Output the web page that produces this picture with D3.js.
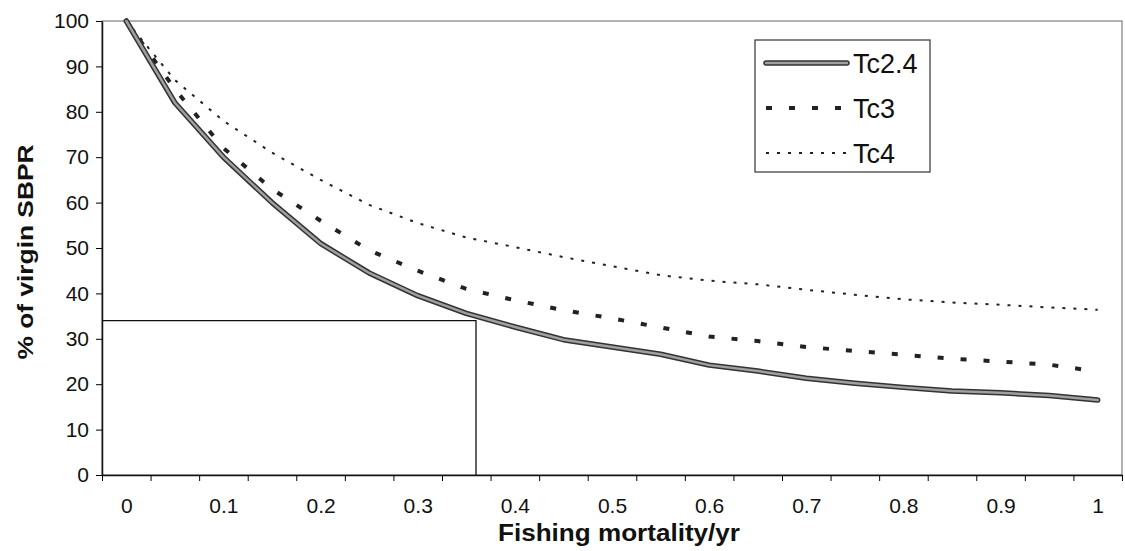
<!DOCTYPE html>
<html>
<head>
<meta charset="utf-8">
<script src="https://cdn.jsdelivr.net/npm/d3@7"></script>
<style>
  body { margin: 0; background: #fff; }
  text { font-family: "Liberation Sans", Arial, sans-serif; fill: #111; }
</style>
</head>
<body>
<div id="chart"></div>
<script>
// categories (Excel style category axis)
var fishingF = [0, 0.05, 0.1, 0.15, 0.2, 0.25, 0.3, 0.35, 0.4, 0.45, 0.5,
                0.55, 0.6, 0.65, 0.7, 0.75, 0.8, 0.85, 0.9, 0.95, 1];
var xTickValues = [0, 0.1, 0.2, 0.3, 0.4, 0.5, 0.6, 0.7, 0.8, 0.9, 1];
var xTickLabels = ["0", "0.1", "0.2", "0.3", "0.4", "0.5", "0.6", "0.7", "0.8", "0.9", "1"];
var yTickValues = [0, 10, 20, 30, 40, 50, 60, 70, 80, 90, 100];

// % of virgin SBPR
var tc24 = [100, 82, 70, 60, 51, 44.5, 39.5, 35.6, 32.6, 29.8, 28.2,
            26.6, 24.2, 22.9, 21.3, 20.2, 19.3, 18.5, 18.1, 17.5, 16.5];
var tc3  = [100, 85, 72, 63, 56, 49.5, 45, 41, 38.5, 36.3, 34.5,
            32.5, 30.5, 29.5, 28.2, 27.3, 26.5, 25.6, 25, 24.3, 22.8];
var tc4  = [100, 87, 78, 71, 65, 59.5, 55.5, 52.3, 50.2, 48, 46,
            44, 42.8, 42, 40.8, 39.7, 38.7, 38, 37.5, 36.9, 36.4];

var seriesNames = ["Tc2.4", "Tc3", "Tc4"];

// reference point (F, SBPR)
var refF = 0.36;
var refSBPR = 34;

function drawChart() {
	var width = 1125, height = 551;
	var plotLeft = 102, plotRight = 1122, plotTop = 21, plotBottom = 475;

	var svg = d3.select("#chart").append("svg")
	            .attr("width", width)
	            .attr("height", height);

	// category slots, ticks sit between categories
	var xPos = d3.scaleLinear().domain([0, fishingF.length]).range([plotLeft, plotRight]);
	var x = d3.scaleLinear().domain([0, 1]).range([xPos(0.5), xPos(fishingF.length - 0.5)]);
	var y = d3.scaleLinear().domain([0, 100]).range([plotBottom, plotTop]);

	// plot area border
	svg.append("rect")
	   .attr("x", plotLeft).attr("y", plotTop)
	   .attr("width", plotRight - plotLeft).attr("height", plotBottom - plotTop)
	   .attr("fill", "none")
	   .attr("stroke", "#666")
	   .attr("stroke-width", 1);

	// y axis
	var yAxis = svg.append("g")
	   .attr("transform", "translate(" + plotLeft + ",0)")
	   .call(d3.axisLeft(y).tickValues(yTickValues).tickSize(6).tickSizeOuter(0).tickPadding(7));
	yAxis.attr("font-size", null).attr("font-family", null);
	yAxis.selectAll("text").style("font-size", "21px");
	yAxis.select(".domain").attr("stroke", "#111").attr("stroke-width", 1.5);

	// x axis ticks
	var xAxis = svg.append("g")
	   .attr("transform", "translate(0," + plotBottom + ")")
	   .call(d3.axisBottom(xPos).tickValues(d3.range(0, fishingF.length + 1)).tickFormat("").tickSize(6).tickSizeOuter(0));
	xAxis.select(".domain").attr("stroke", "#111").attr("stroke-width", 1.5);

	// x axis labels at category centres
	var xLabels = svg.append("g")
	   .attr("transform", "translate(0," + plotBottom + ")")
	   .call(d3.axisBottom(x).tickValues(xTickValues)
	           .tickFormat(function(d, i) { return xTickLabels[i]; })
	           .tickSize(0).tickPadding(23));
	xLabels.attr("font-size", null).attr("font-family", null);
	xLabels.select(".domain").remove();
	xLabels.selectAll("text").style("font-size", "21px");

	// reference box
	svg.append("path")
	   .attr("d", "M" + plotLeft + "," + y(refSBPR) + "H" + x(refF) + "V" + y(0))
	   .attr("fill", "none")
	   .attr("stroke", "#111")
	   .attr("stroke-width", 1.3);

	var line = d3.line()
	             .x(function(d, i) { return x(fishingF[i]); })
	             .y(function(d) { return y(d); });

	// Tc4 dotted
	svg.append("path").datum(tc4)
	   .attr("d", line)
	   .attr("fill", "none")
	   .attr("stroke", "#222")
	   .attr("stroke-width", 2)
	   .attr("stroke-dasharray", "3,8");

	// Tc3 dashed
	svg.append("path").datum(tc3)
	   .attr("d", line)
	   .attr("fill", "none")
	   .attr("stroke", "#222")
	   .attr("stroke-width", 4)
	   .attr("stroke-dasharray", "6,17");

	// Tc2.4 thick grey
	svg.append("path").datum(tc24)
	   .attr("d", line)
	   .attr("fill", "none")
	   .attr("stroke", "#333")
	   .attr("stroke-width", 5.5)
	   .attr("stroke-linejoin", "round")
	   .attr("stroke-linecap", "round");
	svg.append("path").datum(tc24)
	   .attr("d", line)
	   .attr("fill", "none")
	   .attr("stroke", "#a0a0a0")
	   .attr("stroke-width", 2.5)
	   .attr("stroke-linejoin", "round")
	   .attr("stroke-linecap", "round");

	// legend
	var legend = svg.append("g").attr("transform", "translate(755,40)");
	legend.append("rect")
	      .attr("width", 175).attr("height", 132)
	      .attr("fill", "#fff")
	      .attr("stroke", "#333")
	      .attr("stroke-width", 1.2);

	var legendStyles = [
	  { width: 5.5, dash: null, stroke: "#333" },
	  { width: 4, dash: "6,17", stroke: "#222" },
	  { width: 2, dash: "3,8", stroke: "#222" }
	];

	var item = legend.selectAll(".item")
	      .data(seriesNames)
	      .enter().append("g")
	      .attr("class", "item")
	      .attr("transform", function(d, i) { return "translate(0," + (23 + i * 45) + ")"; });

	item.append("line")
	    .attr("x1", 11).attr("x2", 92)
	    .attr("stroke", function(d, i) { return legendStyles[i].stroke; })
	    .attr("stroke-width", function(d, i) { return legendStyles[i].width; })
	    .attr("stroke-dasharray", function(d, i) { return legendStyles[i].dash; })
	    .attr("stroke-linecap", function(d, i) { return i === 0 ? "round" : "butt"; });
	item.filter(function(d, i) { return i === 0; })
	    .append("line")
	    .attr("x1", 11).attr("x2", 92)
	    .attr("stroke", "#a0a0a0")
	    .attr("stroke-width", 2.5)
	    .attr("stroke-linecap", "round");

	item.append("text")
	    .attr("x", 98)
	    .attr("y", 10)
	    .style("font-size", "27px")
	    .text(function(d) { return d; });

	// axis titles
	svg.append("text")
	   .attr("x", (plotLeft + plotRight) / 2 + 7)
	   .attr("y", 541)
	   .attr("text-anchor", "middle")
	   .attr("textLength", 242)
	   .attr("lengthAdjust", "spacingAndGlyphs")
	   .style("font-size", "23px")
	   .style("font-weight", "bold")
	   .text("Fishing mortality/yr");

	svg.append("text")
	   .attr("transform", "translate(33,252) rotate(-90)")
	   .attr("text-anchor", "middle")
	   .attr("textLength", 215)
	   .attr("lengthAdjust", "spacingAndGlyphs")
	   .style("font-size", "22px")
	   .style("font-weight", "bold")
	   .text("% of virgin SBPR");
}

drawChart();
</script>
</body>
</html>
